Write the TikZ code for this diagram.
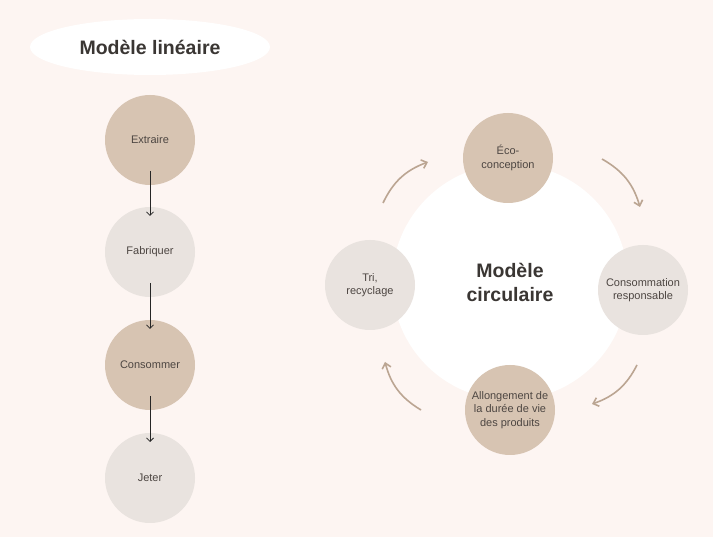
\documentclass[tikz,border=0pt]{standalone}
\usepackage{fontspec}
\setmainfont{Liberation Sans}
\usepackage{xcolor}
\usetikzlibrary{arrows.meta,shapes.geometric}
\definecolor{basebg}{HTML}{FDF5F2}
\definecolor{basetan}{HTML}{D7C4B2}
\definecolor{baselight}{HTML}{E9E3DF}
\definecolor{basearrow}{HTML}{BBA592}
\definecolor{basetext}{HTML}{4D4642}
\definecolor{basetitle}{HTML}{3A3633}

\tikzset{
  stage/.style={circle,minimum size=90pt,inner sep=0pt,align=center,text=basetext,
    font=\fontsize{11}{13.5}\selectfont},
  tan/.style={stage,fill=basetan},
  light/.style={stage,fill=baselight},
  loop/.style={basearrow,line width=1.6pt,-{Straight Barb[length=5pt,width=9pt]},bend left=22},
  down/.style={black!85,line width=0.8pt,-{Straight Barb[length=3.5pt,width=7pt]}}
}

\begin{document}
\begin{tikzpicture}[x=1pt,y=-1pt]
  \fill[basebg] (0,0) rectangle (713,537);
  % linear model
  \node[ellipse,fill=white,minimum width=240pt,minimum height=56pt,text=basetitle,
    font=\fontsize{19.5}{22}\selectfont\bfseries] (lintitle) at (150,47){Modèle linéaire};
  \node[tan] (ext) at (150,140){Extraire};
  \node[light] (fab) at (150,252){Fabriquer};
  \node[tan] (cons) at (150,365){Consommer};
  \node[light] (jet) at (150,478){Jeter};
  \foreach \a/\b in {ext/fab,fab/cons,cons/jet}{
    \draw[down,shorten <=31pt,shorten >=36pt] (\a.center)--(\b.center);
  }
  % circular model
  \node[circle,fill=white,minimum size=236pt,align=center,text=basetitle,
    font=\fontsize{19.5}{24}\selectfont\bfseries] (circ) at (510,282){Modèle\\circulaire};
  \node[tan] (eco) at (508,158){Éco-\\conception};
  \node[light] (resp) at (643,290){Consommation\\responsable};
  \node[tan] (vie) at (510,410){Allongement de\\la durée de vie\\des produits};
  \node[light] (tri) at (370,285){Tri,\\recyclage};
  \coordinate (a1) at (383,203); \coordinate (b1) at (428,162);
  \coordinate (a2) at (602,159); \coordinate (b2) at (640,207);
  \coordinate (a3) at (637,365); \coordinate (b3) at (592,404);
  \coordinate (a4) at (421,410); \coordinate (b4) at (385,362);
  \foreach \i in {1,...,4}{
    \draw[loop] (a\i) to (b\i);
  }
\end{tikzpicture}
\end{document}
